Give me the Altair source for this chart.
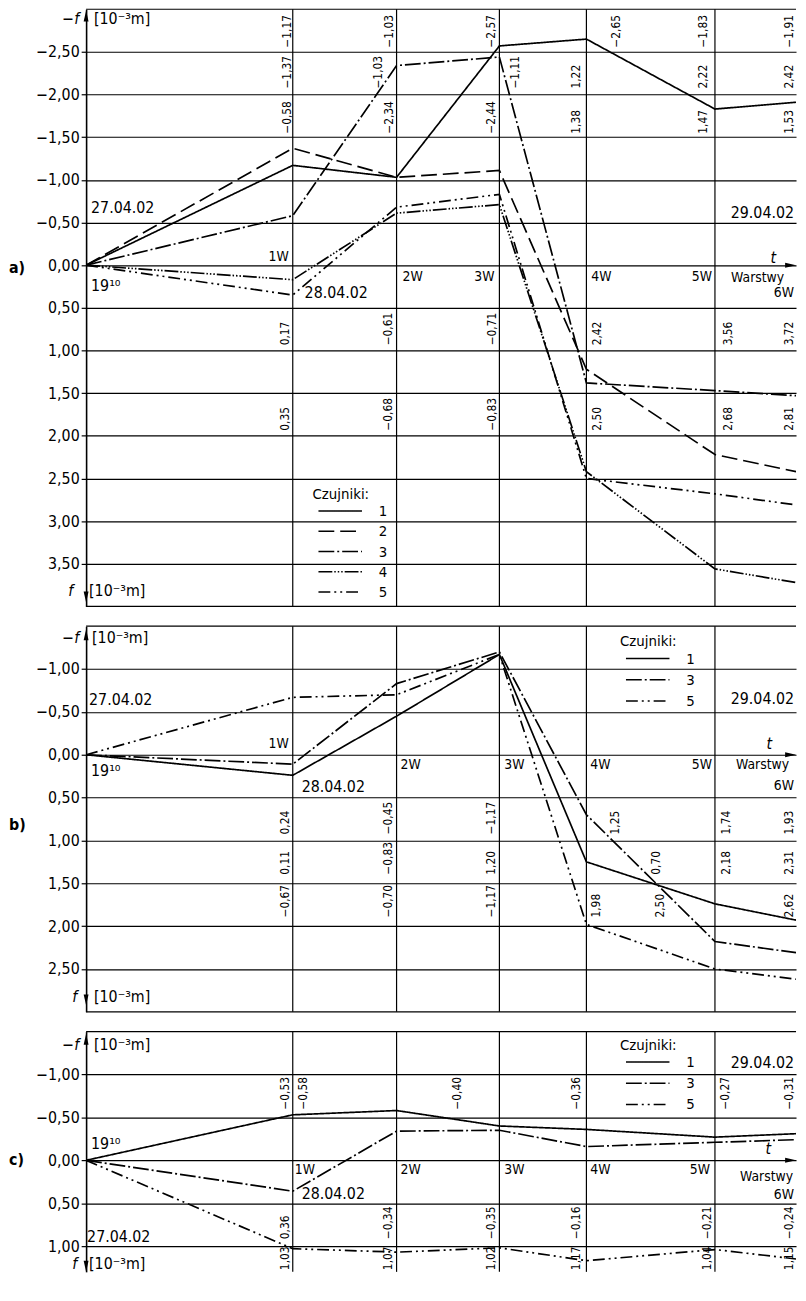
import altair as alt
import pandas as pd

FONT = "DejaVu Sans Condensed, DejaVu Sans"

# Layers (Warstwy) and their position on the time axis t (estimated from the figure);
# the 6W line lies at the right edge of the visible part of the figure
layers = ["0", "1W", "2W", "3W", "4W", "5W", "6W"]
layer_t = [0.0, 2.09, 3.14, 4.18, 5.06, 6.36, 7.18]
T_MAX = 7.18

# ---- panel a) deflections f [10^-3 m] for sensors (Czujniki) 1..5
a_sensors = ["1", "2", "3", "4", "5"]
a_s1 = [0, -1.17, -1.03, -2.57, -2.65, -1.83, -1.91]
a_s2 = [0, -1.37, -1.03, -1.11, 1.22, 2.22, 2.42]
a_s3 = [0, -0.58, -2.34, -2.44, 1.38, 1.47, 1.53]
a_s4 = [0, 0.17, -0.61, -0.71, 2.42, 3.56, 3.72]
a_s5 = [0, 0.35, -0.68, -0.83, 2.50, 2.68, 2.81]

# ---- panel b) sensors 1, 3, 5
b_sensors = ["1", "3", "5"]
b_s1 = [0, 0.24, -0.45, -1.17, 1.25, 1.74, 1.93]
b_s3 = [0, 0.11, -0.83, -1.20, 0.70, 2.18, 2.31]
b_s5 = [0, -0.67, -0.70, -1.17, 1.98, 2.50, 2.62]

# ---- panel c) sensors 1, 3, 5
c_sensors = ["1", "3", "5"]
c_s1 = [0, -0.53, -0.58, -0.40, -0.36, -0.27, -0.31]
c_s3 = [0, 0.36, -0.34, -0.35, -0.16, -0.21, -0.24]
c_s5 = [0, 1.03, 1.07, 1.02, 1.17, 1.04, 1.15]

# y axis ticks (labelled grid lines) and panel borders
a_ticks = [-2.5, -2.0, -1.5, -1.0, -0.5, 0.0, 0.5, 1.0, 1.5, 2.0, 2.5, 3.0, 3.5]
b_ticks = [-1.0, -0.5, 0.0, 0.5, 1.0, 1.5, 2.0, 2.5]
c_ticks = [-1.0, -0.5, 0.0, 0.5, 1.0]
a_border = [-3.0, 4.0]
b_border = [-1.5, 3.0]
c_border = [-1.5]

# rotated value labels: (text, t, f at start of text)
a_rot = [
    ("−1,17", 2.03, -2.55), ("−1,37", 2.03, -2.07), ("−0,58", 2.03, -1.54),
    ("−1,03", 3.06, -2.55), ("−1,03", 2.95, -2.07), ("−2,34", 3.06, -1.54),
    ("−2,57", 4.10, -2.55), ("−1,11", 4.34, -2.07), ("−2,44", 4.10, -1.54),
    ("−2,65", 5.36, -2.55), ("1,22", 4.96, -2.07), ("1,38", 4.96, -1.54),
    ("−1,83", 6.24, -2.55), ("2,22", 6.24, -2.07), ("1,47", 6.24, -1.54),
    ("−1,91", 7.11, -2.55), ("2,42", 7.11, -2.07), ("1,53", 7.11, -1.54),
    ("0,17", 2.01, 0.94), ("0,35", 2.01, 1.94),
    ("−0,61", 3.05, 0.94), ("−0,68", 3.05, 1.94),
    ("−0,71", 4.11, 0.94), ("−0,83", 4.11, 1.94),
    ("2,42", 5.17, 0.94), ("2,50", 5.17, 1.94),
    ("3,56", 6.49, 0.94), ("2,68", 6.49, 1.94),
    ("3,72", 7.11, 0.94), ("2,81", 7.11, 1.94),
]
b_rot = [
    ("0,24", 2.01, 0.93), ("0,11", 2.01, 1.40), ("−0,67", 2.01, 1.90),
    ("−0,45", 3.05, 0.93), ("−0,83", 3.05, 1.40), ("−0,70", 3.05, 1.90),
    ("−1,17", 4.10, 0.93), ("1,20", 4.10, 1.40), ("−1,17", 4.10, 1.90),
    ("1,25", 5.35, 0.93), ("0,70", 5.76, 1.40), ("1,98", 5.16, 1.90), ("2,50", 5.80, 1.90),
    ("1,74", 6.47, 0.93), ("2,18", 6.47, 1.40),
    ("1,93", 7.11, 0.93), ("2,31", 7.11, 1.40), ("2,62", 7.11, 1.90),
]
c_rot = [
    ("−0,53", 2.01, -0.59), ("−0,58", 2.19, -0.59), ("0,36", 2.01, 0.92), ("1,03", 2.01, 1.28),
    ("−0,34", 3.05, 0.92), ("1,07", 3.05, 1.28),
    ("−0,40", 3.75, -0.59), ("−0,35", 4.10, 0.92), ("1,02", 4.10, 1.28),
    ("−0,36", 4.96, -0.59), ("−0,16", 4.96, 0.92), ("1,17", 4.96, 1.28),
    ("−0,27", 6.46, -0.59), ("−0,21", 6.28, 0.92), ("1,04", 6.28, 1.28),
    ("−0,31", 7.11, -0.59), ("−0,24", 7.11, 0.92), ("1,15", 7.11, 1.28),
]

# horizontal annotations: (text, t, f, align, size, style, weight)
a_notes = [
    ("27.04.02", 0.05, -0.67, "left", 16, "normal", "normal"),
    ("19¹⁰", 0.05, 0.24, "left", 16, "normal", "normal"),
    ("1W", 2.05, -0.09, "right", 14, "normal", "normal"),
    ("28.04.02", 2.21, 0.33, "left", 16, "normal", "normal"),
    ("2W", 3.20, 0.14, "left", 14, "normal", "normal"),
    ("3W", 4.13, 0.14, "right", 14, "normal", "normal"),
    ("4W", 5.11, 0.14, "left", 14, "normal", "normal"),
    ("5W", 6.33, 0.14, "right", 14, "normal", "normal"),
    ("29.04.02", 7.16, -0.61, "right", 16, "normal", "normal"),
    ("t", 6.95, -0.08, "center", 16, "italic", "normal"),
    ("Warstwy", 7.06, 0.15, "right", 14, "normal", "normal"),
    ("6W", 7.16, 0.33, "right", 14, "normal", "normal"),
    ("−f", -0.07, -2.88, "right", 16, "italic", "normal"),
    ("[10⁻³m]", 0.08, -2.88, "left", 16, "normal", "normal"),
    ("f", -0.13, 3.82, "right", 16, "italic", "normal"),
    ("[10⁻³m]", 0.03, 3.82, "left", 16, "normal", "normal"),
    ("a)", -0.78, 0.03, "left", 16, "normal", "bold"),
]
b_notes = [
    ("27.04.02", 0.03, -0.64, "left", 16, "normal", "normal"),
    ("1W", 2.05, -0.12, "right", 14, "normal", "normal"),
    ("19¹⁰", 0.05, 0.19, "left", 16, "normal", "normal"),
    ("28.04.02", 2.18, 0.38, "left", 16, "normal", "normal"),
    ("2W", 3.18, 0.12, "left", 14, "normal", "normal"),
    ("3W", 4.23, 0.12, "left", 14, "normal", "normal"),
    ("4W", 5.10, 0.12, "left", 14, "normal", "normal"),
    ("5W", 6.33, 0.12, "right", 14, "normal", "normal"),
    ("29.04.02", 7.16, -0.65, "right", 16, "normal", "normal"),
    ("t", 6.91, -0.13, "center", 16, "italic", "normal"),
    ("Warstwy", 7.11, 0.12, "right", 14, "normal", "normal"),
    ("6W", 7.16, 0.36, "right", 14, "normal", "normal"),
    ("−f", -0.07, -1.36, "right", 16, "italic", "normal"),
    ("[10⁻³m]", 0.06, -1.36, "left", 16, "normal", "normal"),
    ("f", -0.09, 2.83, "right", 16, "italic", "normal"),
    ("[10⁻³m]", 0.08, 2.83, "left", 16, "normal", "normal"),
    ("b)", -0.78, 0.82, "left", 16, "normal", "bold"),
]
c_notes = [
    ("19¹⁰", 0.05, -0.19, "left", 16, "normal", "normal"),
    ("1W", 2.11, 0.11, "left", 14, "normal", "normal"),
    ("28.04.02", 2.18, 0.39, "left", 16, "normal", "normal"),
    ("2W", 3.18, 0.11, "left", 14, "normal", "normal"),
    ("3W", 4.23, 0.11, "left", 14, "normal", "normal"),
    ("4W", 5.10, 0.11, "left", 14, "normal", "normal"),
    ("5W", 6.31, 0.11, "right", 14, "normal", "normal"),
    ("27.04.02", 0.01, 0.89, "left", 16, "normal", "normal"),
    ("29.04.02", 7.16, -1.13, "right", 16, "normal", "normal"),
    ("t", 6.90, -0.13, "center", 16, "italic", "normal"),
    ("Warstwy", 7.15, 0.19, "right", 14, "normal", "normal"),
    ("6W", 7.16, 0.40, "right", 14, "normal", "normal"),
    ("−f", -0.07, -1.34, "right", 16, "italic", "normal"),
    ("[10⁻³m]", 0.08, -1.34, "left", 16, "normal", "normal"),
    ("f", -0.09, 1.21, "right", 16, "italic", "normal"),
    ("[10⁻³m]", 0.03, 1.21, "left", 16, "normal", "normal"),
    ("c)", -0.78, 0.0, "left", 16, "normal", "bold"),
]

# axis arrow heads: (kind, t, f)
a_arrows = [("up", 0.0, -2.92), ("down", 0.0, 3.89), ("right", 7.125, 0.0)]
b_arrows = [("up", 0.0, -1.40), ("down", 0.0, 2.86), ("right", 7.125, 0.0)]
c_arrows = [("up", 0.0, -1.41), ("down", 0.0, 1.235), ("right", 7.125, 0.0)]

DASH = {
    "1": [1, 0],
    "2": [16, 6],
    "3": [16, 3, 2, 3],
    "4": [14, 2, 1.5, 2, 1.5, 2, 1.5, 2],
    "5": [12, 4, 2, 4, 2, 4],
}
SHAPES = {
    "up": "M0,-1L0.45,1L-0.45,1Z",
    "down": "M0,1L0.45,-1L-0.45,-1Z",
    "right": "M1,0L-1,0.45L-1,-0.45Z",
}
PLOT_W = 718


def build_panel(sensors, series, ydom, height, ticks, border, rot, notes, arrows,
                leg_x, leg_y, leg_row):
    rows = [{"sensor": s, "t": t, "f": v}
            for s, vals in zip(sensors, series) for t, v in zip(layer_t, vals)]
    df = pd.DataFrame(rows)
    lo, hi = ydom
    xs = alt.Scale(domain=[0, T_MAX], nice=False, zero=False)
    ys = alt.Scale(domain=[lo, hi], reverse=True, nice=False, zero=False)
    yaxis = alt.Axis(values=ticks, title=None, grid=True, gridColor="black",
                     gridOpacity=1, gridWidth=1.2, domain=True, domainColor="black",
                     domainWidth=1.6, domainOpacity=1, ticks=True, tickColor="black",
                     tickWidth=1.2, tickSize=5,
                     labelExpr="replace(format(datum.value, '.2f'), '.', ',')",
                     labelFont=FONT, labelFontSize=16, labelColor="black",
                     labelPadding=2, labelOverlap=False)
    X = alt.X("t:Q", scale=xs, axis=None)
    Y = alt.Y("f:Q", scale=ys, axis=yaxis)

    # vertical lines at the layers 1W..5W
    vlines = alt.Chart(pd.DataFrame({"t": layer_t[1:6]})).mark_rule(
        color="black", strokeWidth=1.2).encode(x=X)
    # panel borders (top / bottom)
    hlines = alt.Chart(pd.DataFrame({"f": border})).mark_rule(
        color="black", strokeWidth=1.2).encode(y=Y)

    legend = alt.Legend(
        orient="none", legendX=leg_x, legendY=leg_y, title="Czujniki:",
        titleFont=FONT, titleFontSize=15, titleFontWeight="normal", titleColor="black",
        titlePadding=0, labelFont=FONT, labelFontSize=15, labelColor="black",
        labelOffset=16, symbolType="stroke", symbolSize=1936, symbolStrokeWidth=1.5,
        symbolStrokeColor="black", symbolOffset=5, clipHeight=leg_row - 2.5,
        rowPadding=2.5, padding=0, offset=0,
    )
    lines = alt.Chart(df).mark_line(color="black", strokeWidth=1.7, clip=True).encode(
        x=X, y=Y,
        strokeDash=alt.StrokeDash("sensor:N",
                                  scale=alt.Scale(domain=sensors, range=[DASH[s] for s in sensors]),
                                  legend=legend),
    )
    layers_out = [lines, vlines, hlines]

    rot_df = pd.DataFrame(rot, columns=["text", "t", "f"])
    layers_out.append(
        alt.Chart(rot_df).mark_text(angle=270, align="left", baseline="middle", font=FONT,
                                    fontSize=12, color="black")
        .encode(x=X, y=Y, text="text:N")
    )

    ndf = pd.DataFrame(notes, columns=["text", "t", "f", "align", "size", "style", "weight"])
    for (al, sz, st, wt), g in ndf.groupby(["align", "size", "style", "weight"]):
        layers_out.append(
            alt.Chart(g[["text", "t", "f"]].reset_index(drop=True)).mark_text(
                align=al, baseline="middle", font=FONT, fontSize=float(sz), fontStyle=st,
                fontWeight=wt, color="black")
            .encode(x=X, y=Y, text="text:N")
        )

    for kind, t, f in arrows:
        adf = pd.DataFrame({"t": [t], "f": [f]})
        layers_out.append(
            alt.Chart(adf).mark_point(shape=SHAPES[kind], filled=True, size=121,
                                      color="black", opacity=1, strokeWidth=0)
            .encode(x=X, y=Y)
        )
    return alt.layer(*layers_out).properties(width=PLOT_W, height=height)


pa = build_panel(a_sensors, [a_s1, a_s2, a_s3, a_s4, a_s5], (-3.0, 4.0), 604, a_ticks,
                 a_border, a_rot, a_notes, a_arrows, 229, 483.5, 20.5)
pb = build_panel(b_sensors, [b_s1, b_s3, b_s5], (-1.5, 3.0), 390, b_ticks,
                 b_border, b_rot, b_notes, b_arrows, 540, 8.5, 21)
pc = build_panel(c_sensors, [c_s1, c_s3, c_s5], (-1.5, 1.30), 243, c_ticks,
                 c_border, c_rot, c_notes, c_arrows, 540, 6.5, 21)

chart = (
    alt.vconcat(pa, pb, pc, spacing=20, bounds="flush")
    .resolve_scale(x="independent", y="independent", strokeDash="independent")
    .resolve_legend(strokeDash="independent")
    .properties(padding={"left": 0, "top": -8, "right": 0, "bottom": 0})
    .configure_view(stroke="transparent")
)

chart.save("out.html", embed_options={"renderer": "svg", "actions": False})
